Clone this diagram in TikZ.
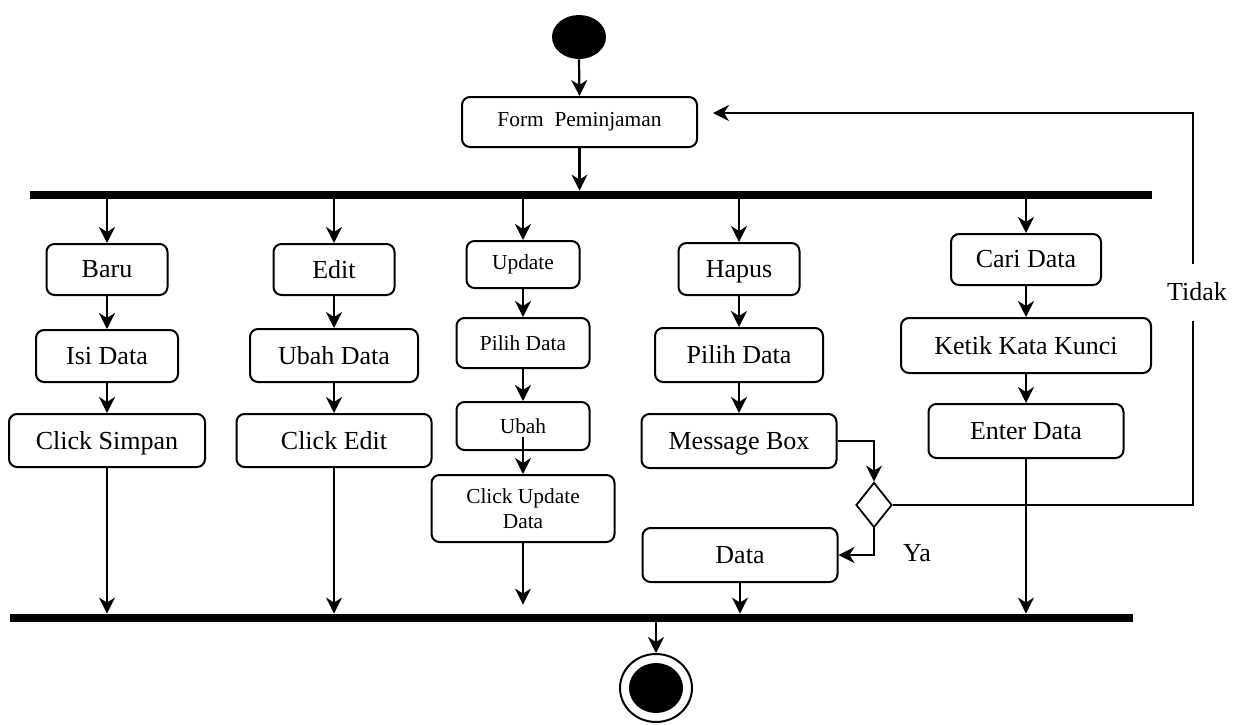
\documentclass[tikz,border=0pt]{standalone}
\usepackage{fontspec}
\setmainfont{Liberation Serif}
\usetikzlibrary{arrows.meta,shapes.geometric,calc}
\newcommand{\actbox}[7]{\node[box,#6,minimum width={#3*0.5pt},minimum height={(#5-#4)*0.5pt}] (#1) at (#2,{(#4+#5)/2}) {#7};}
\begin{document}
\begin{tikzpicture}[x=0.5pt,y=-0.5pt,
 box/.style={draw,line width=1pt,rounded corners=4pt,inner sep=0pt,align=center},
 big/.style={font=\fontsize{13}{15}\selectfont,text depth=0.5pt},
 small/.style={font=\fontsize{10.7}{12.5}\selectfont},
 arr/.style={line width=1.1pt,-{Stealth[length=8pt,width=8pt,inset=2.5pt]}},
 bar/.style={fill=black,inner sep=0pt,minimum height=4pt},
 lab/.style={font=\fontsize{13}{15}\selectfont,inner sep=0pt}]
\useasboundingbox (0,0) rectangle (1243,724);

% start / end
\node[ellipse,fill=black,minimum width=27pt,minimum height=22pt,inner sep=0pt] (start) at (579,37) {};
\actbox{form}{579.5}{235}{97}{147}{small}{Form~ Peminjaman}
\node[bar,minimum width=561pt] (topbar) at (591,195) {};
\node[bar,minimum width=561.5pt] (botbar) at (571.5,618) {};
\node[ellipse,draw,line width=1pt,minimum width=36pt,minimum height=34pt,inner sep=0pt] (end) at (656,688) {};
\node[ellipse,fill=black,minimum width=27pt,minimum height=25pt,inner sep=0pt] (endin) at (end.center) {};

% column 1
\actbox{baru}{107}{121}{244}{295}{big}{Baru}
\actbox{isi}{107}{142}{330}{382}{big}{Isi Data}
\actbox{simpan}{107}{196}{414}{467}{big}{Click Simpan}
% column 2
\actbox{edit}{334}{121}{244}{295}{big}{Edit}
\actbox{ubahdata}{334}{168}{329}{382}{big}{Ubah Data}
\actbox{clickedit}{334}{195}{414}{467}{big}{Click Edit}
% column 3
\actbox{update}{523}{113}{241}{288}{small}{Update}
\actbox{pilih1}{523}{133}{318}{368}{small}{Pilih Data}
\actbox{ubah}{523}{133}{402}{450}{small}{Ubah}
\actbox{clickupd}{523}{183}{475}{542}{small}{Click Update\\Data}
% column 4
\actbox{hapus}{739}{121}{243}{295}{big}{Hapus}
\actbox{pilih2}{739}{168}{328}{382}{big}{Pilih Data}
\actbox{msg}{739}{195}{414}{468}{big}{Message Box}
\actbox{data}{740}{195}{528}{582}{big}{Data}
% column 5
\actbox{cari}{1026}{150}{234}{285}{big}{Cari Data}
\actbox{ketik}{1026}{250}{318}{373}{big}{Ketik Kata Kunci}
\actbox{enter}{1026}{195}{404}{458}{big}{Enter Data}

% decision
\node[diamond,draw,line width=0.9pt,minimum width=18pt,minimum height=22.5pt,inner sep=0pt] (dec) at (874,505) {};

% arrows
\draw[arr] (start.south) -- (form.north);
\draw[arr] (form.south) -- (form.south |- topbar.north);

\draw[arr] (baru.north |- topbar.south) -- (baru.north);
\draw[arr] (baru.south) -- (isi.north);
\draw[arr] (isi.south) -- (simpan.north);
\draw[arr] (simpan.south) -- (simpan.south |- botbar.north);

\draw[arr] (edit.north |- topbar.south) -- (edit.north);
\draw[arr] (edit.south) -- (ubahdata.north);
\draw[arr] (ubahdata.south) -- (clickedit.north);
\draw[arr] (clickedit.south) -- (clickedit.south |- botbar.north);

\draw[arr] (update.north |- topbar.south) -- (update.north);
\draw[arr] (update.south) -- (pilih1.north);
\draw[arr] (pilih1.south) -- (ubah.north);
\draw[arr] ([yshift=7pt]ubah.south) -- (clickupd.north);
\draw[arr,shorten >=4.5pt] (clickupd.south) -- (clickupd.south |- botbar.north);

\draw[arr] (hapus.north |- topbar.south) -- (hapus.north);
\draw[arr] (hapus.south) -- (pilih2.north);
\draw[arr] (pilih2.south) -- (msg.north);
\draw[arr] (msg.east) -| (dec.north);
\draw[arr] (dec.south) |- (data.east);
\draw[arr] (data.south) -- (data.south |- botbar.north);

\draw[arr] (cari.north |- topbar.south) -- (cari.north);
\draw[arr] (cari.south) -- (ketik.north);
\draw[arr] (ketik.south) -- (enter.north);
\draw[arr] (enter.south) -- (enter.south |- botbar.north);

\draw[arr] (end.north |- botbar.south) -- (end.north);

% loop back (Tidak)
\coordinate (loopc) at (1193,113);
\coordinate (ret) at (713,113);
\draw[line width=0.8pt,-{Stealth[length=8pt,width=8pt,inset=2.5pt]}] (dec.east) -| (loopc) -- (ret);
\node[lab,fill=white,minimum height=28.5pt,inner xsep=2pt] (tidak) at (1197,292) {Tidak};
\node[lab] (ya) at (917,553) {Ya};
\end{tikzpicture}
\end{document}
